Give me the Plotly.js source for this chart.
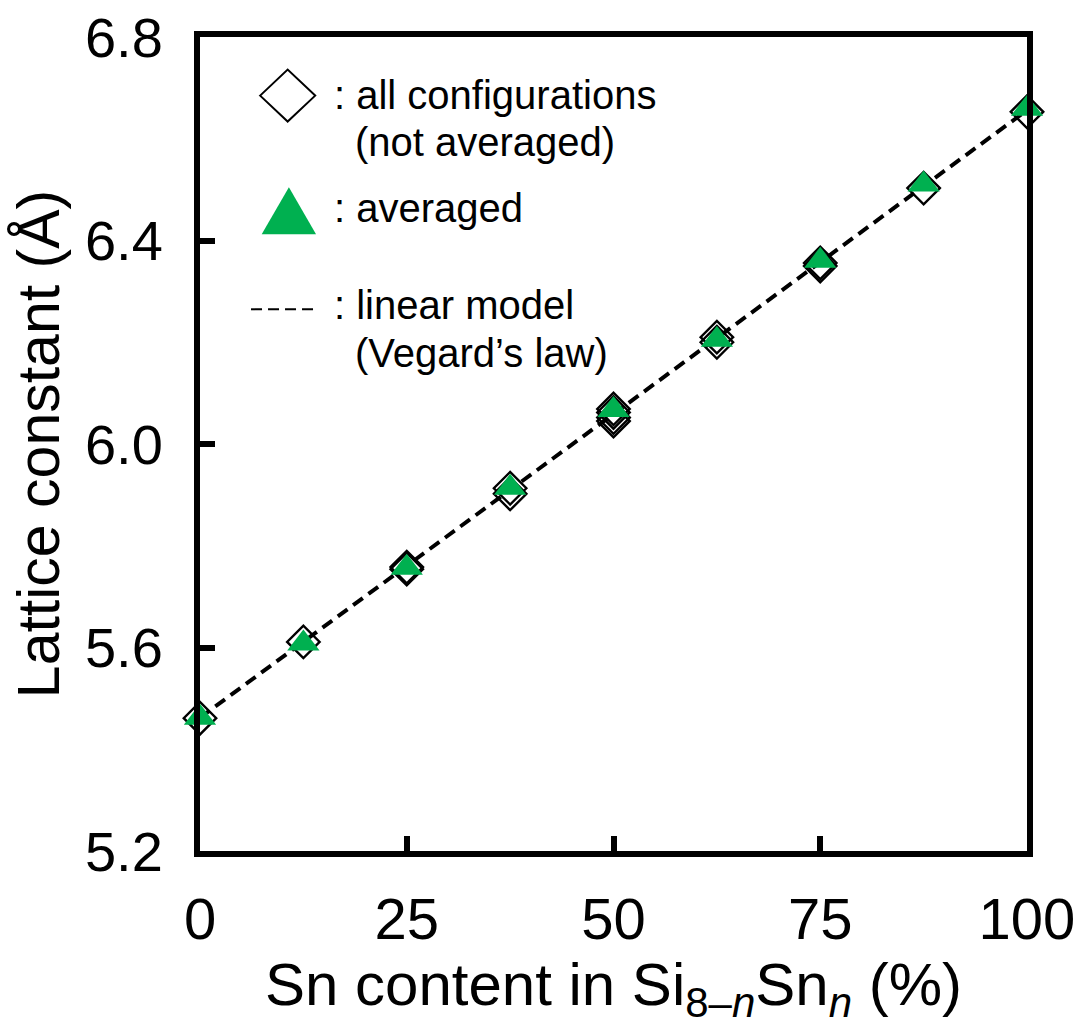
<!DOCTYPE html>
<html>
<head>
<meta charset="utf-8">
<script src="https://cdn.plot.ly/plotly-3.0.1.min.js"></script>
<style>
html,body{margin:0;padding:0;background:#fff;}
#chart{width:1077px;height:1029px;}
</style>
</head>
<body>
<div id="chart"></div>
<script>
// Sn content (%) for each individual configuration (not averaged)
const configX = [0, 12.5, 25, 25, 37.5, 37.5, 50, 50, 50, 50, 62.5, 62.5, 75, 75, 87.5, 100];
// Lattice constant (Å) for each configuration
const configY = [5.461, 5.611, 5.758, 5.754, 5.913, 5.902, 6.069, 6.062, 6.052, 6.045, 6.210, 6.200, 6.356, 6.350, 6.503, 6.653];

// Averaged values
const avgX = [0, 12.5, 25, 37.5, 50, 62.5, 75, 87.5, 100];
const avgY = [5.462, 5.608, 5.757, 5.914, 6.067, 6.205, 6.360, 6.510, 6.659];

// Linear model (Vegard's law) end points
const vegardX = [0, 100];
const vegardY = [5.462, 6.656];

// Tick labels
const xTicks = [0, 25, 50, 75, 100];
const yTicks = [5.2, 5.6, 6.0, 6.4, 6.8];
const yTickText = ["5.2", "5.6", "6.0", "6.4", "6.8"];

// Legend texts
const legendLines = [
  ": all configurations",
  "(not averaged)",
  ": averaged",
  ": linear model",
  "(Vegard\u2019s law)"
];

const GREEN = "#00B050";
const FONT = "Liberation Sans, Arial, sans-serif";

const traces = [
  {
    x: configX, y: configY, type: "scatter", mode: "markers",
    marker: {symbol: "diamond-open", size: 25, color: "#000", line: {width: 2.4, color: "#000"}},
    cliponaxis: false, showlegend: false, hoverinfo: "skip"
  },
  {
    x: vegardX, y: vegardY, type: "scatter", mode: "lines",
    line: {color: "#000", width: 4, dash: "12px,7px"},
    cliponaxis: false, showlegend: false, hoverinfo: "skip"
  },
  {
    x: avgX, y: avgY, type: "scatter", mode: "markers",
    marker: {symbol: "triangle-up", size: 28, color: GREEN, line: {width: 0}},
    cliponaxis: false, showlegend: false, hoverinfo: "skip"
  }
];

// Legend glyphs (paper coordinates)
const shapes = [
  {type: "path", xref: "paper", yref: "paper",
   path: "M 0.0727 0.928 L 0.106 0.9599 L 0.1393 0.928 L 0.106 0.8961 Z",
   line: {color: "#000", width: 2}, fillcolor: "rgba(0,0,0,0)"},
  {type: "path", xref: "paper", yref: "paper",
   path: "M 0.0746 0.7576 L 0.1403 0.7576 L 0.1075 0.8154 Z",
   line: {width: 0}, fillcolor: GREEN},
  {type: "line", xref: "paper", yref: "paper",
   x0: 0.0617, x1: 0.139, y0: 0.6655, y1: 0.6655,
   line: {color: "#000", width: 2, dash: "11px,6px"}}
];

const legFont = {family: FONT, size: 40, color: "#000"};
const annX1 = (332 - 200) / 827, annX2 = (353 - 200) / 827;
const annotations = [
  {text: legendLines[0], x: annX1, y: (851 - 95) / 814},
  {text: legendLines[1], x: annX2, y: (851 - 142) / 814},
  {text: legendLines[2], x: annX1, y: (851 - 208) / 814},
  {text: legendLines[3], x: annX1, y: (851 - 305) / 814},
  {text: legendLines[4], x: annX2, y: (851 - 353) / 814}
].map(a => Object.assign(a, {xref: "paper", yref: "paper", xanchor: "left", yanchor: "middle",
  showarrow: false, font: legFont, align: "left"}));

const axisCommon = {
  showline: true, linecolor: "#000", linewidth: 6, mirror: true,
  ticks: "inside", ticklen: 15, tickwidth: 6, tickcolor: "#000",
  showgrid: false, zeroline: false
};

const layout = {
  width: 1077, height: 1029,
  margin: {l: 200, r: 50, t: 37, b: 178},
  paper_bgcolor: "#fff", plot_bgcolor: "#fff",
  font: {family: FONT, color: "#000"},
  xaxis: Object.assign({}, axisCommon, {
    range: [0, 100], tickvals: xTicks, ticktext: xTicks.map(String),
    tickfont: {family: FONT, size: 58, color: "#000"},
    ticklabelstandoff: 12,
    title: {text: "Sn content in Si<sub>8\u2013<i>n</i></sub>Sn<sub><i>n</i></sub> (%)",
            font: {family: FONT, size: 60, color: "#000"}, standoff: 8}
  }),
  yaxis: Object.assign({}, axisCommon, {
    range: [5.2, 6.8], tickvals: yTicks, ticktext: yTickText,
    tickfont: {family: FONT, size: 56, color: "#000"},
    ticklabelstandoff: 20,
    title: {text: "Lattice constant (Å)", font: {family: FONT, size: 59, color: "#000"}, standoff: 8}
  }),
  shapes: shapes,
  annotations: annotations,
  showlegend: false
};

Plotly.newPlot("chart", traces, layout, {displayModeBar: false, staticPlot: true});
</script>
</body>
</html>
